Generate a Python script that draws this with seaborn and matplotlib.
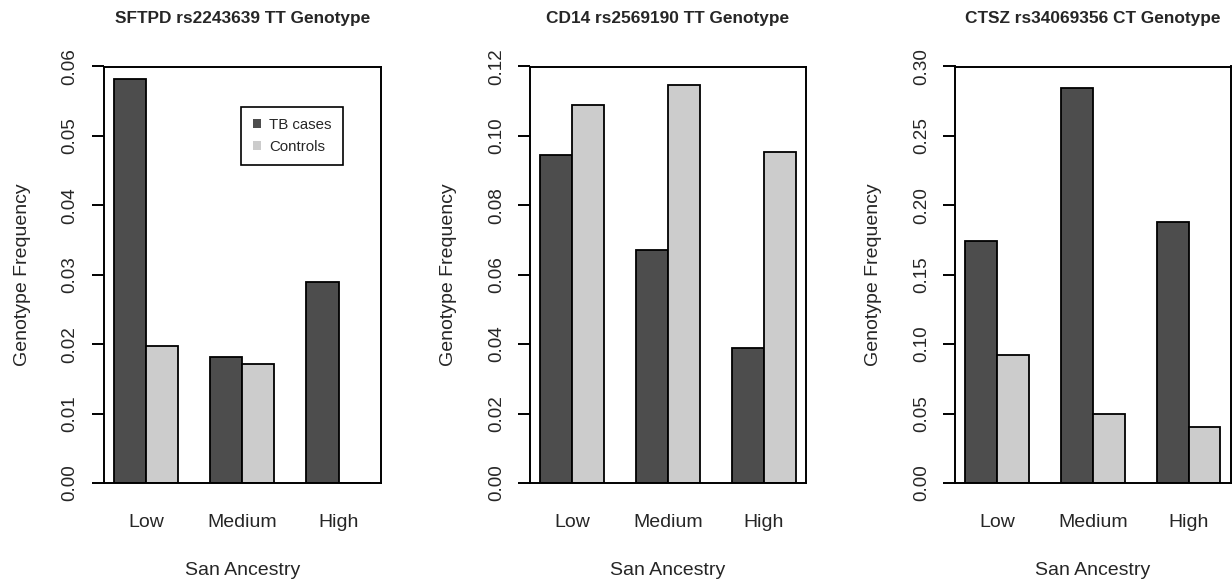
import numpy as np
import pandas as pd
import matplotlib
matplotlib.use("Agg")
import matplotlib.pyplot as plt
from matplotlib.patches import Patch
from matplotlib.ticker import FormatStrFormatter, MultipleLocator
import seaborn as sns

# ---- data ----
ancestry = ["Low", "Medium", "High"]
groups = ["TB cases", "Controls"]

titles = ["SFTPD rs2243639 TT Genotype",
          "CD14 rs2569190 TT Genotype",
          "CTSZ rs34069356 CT Genotype"]

sftpd_cases = [0.0582, 0.0182, 0.0289]
sftpd_controls = [0.0198, 0.0171, 0.0]
cd14_cases = [0.0946, 0.0671, 0.0388]
cd14_controls = [0.1089, 0.1146, 0.0955]
ctsz_cases = [0.174, 0.2844, 0.1877]
ctsz_controls = [0.0922, 0.050, 0.0406]

ymaxes = [0.06, 0.12, 0.30]
ysteps = [0.01, 0.02, 0.05]

colors = {"TB cases": "#4D4D4D", "Controls": "#CCCCCC"}

panels = [(sftpd_cases, sftpd_controls),
          (cd14_cases, cd14_controls),
          (ctsz_cases, ctsz_controls)]

sns.set_style("ticks")
plt.rcParams["font.family"] = ["Liberation Sans", "DejaVu Sans"]

fig = plt.figure(figsize=(12.32, 5.81), dpi=100)

W, H = 1232.0, 581.0
top_px, bot_px = 66.5, 483.0
lefts = [103.5, 530.0, 955.0]
rights = [381.0, 806.0, 1230.7]

for i, (cases, controls) in enumerate(panels):
    l, r = lefts[i], rights[i]
    ax = fig.add_axes([l / W, (H - bot_px) / H, (r - l) / W, (bot_px - top_px) / H])
    df = pd.DataFrame({
        "Ancestry": ancestry * 2,
        "Group": [groups[0]] * 3 + [groups[1]] * 3,
        "Frequency": list(cases) + list(controls),
    })
    sns.barplot(data=df, x="Ancestry", y="Frequency", hue="Group",
                order=ancestry, hue_order=groups, palette=colors,
                saturation=1, width=2 / 3, edgecolor="black", linewidth=1.3,
                legend=False, ax=ax, errorbar=None)
    ax.set_xlim(-0.44, 2.44)
    ax.set_ylim(0, ymaxes[i])
    ax.yaxis.set_major_locator(MultipleLocator(ysteps[i]))
    ax.yaxis.set_major_formatter(FormatStrFormatter("%.2f"))
    for s in ax.spines.values():
        s.set_visible(True)
        s.set_linewidth(1.4)
        s.set_color("black")
    ax.tick_params(axis="y", length=8.4, width=1.4, pad=9.5, labelsize=13.6,
                   direction="out", color="black")
    ax.tick_params(axis="x", length=0, pad=22.5, labelsize=14)
    for lab in ax.get_yticklabels():
        lab.set_rotation(90)
        lab.set_va("center")
    ax.set_xlabel("San Ancestry", fontsize=14)
    ax.set_ylabel("Genotype Frequency", fontsize=14)
    ax.xaxis.set_label_coords(0.5, -0.19)
    ax.yaxis.set_label_coords(-0.263, 0.5)
    ax.set_title(titles[i], fontsize=12.4, fontweight="bold", pad=31.5)

    if i == 0:
        handles = [Patch(facecolor=colors[g], edgecolor="none", label=g) for g in groups]
        leg = ax.legend(handles=handles, loc="upper left",
                        bbox_to_anchor=(0.497, 0.903), borderaxespad=0,
                        fontsize=10.8, handlelength=0.55, handleheight=0.55,
                        handletextpad=0.55, borderpad=0.75, labelspacing=0.5,
                        fancybox=False, framealpha=1, edgecolor="black")
        leg.get_frame().set_linewidth(1.2)

fig.savefig("out.png", dpi=100)
